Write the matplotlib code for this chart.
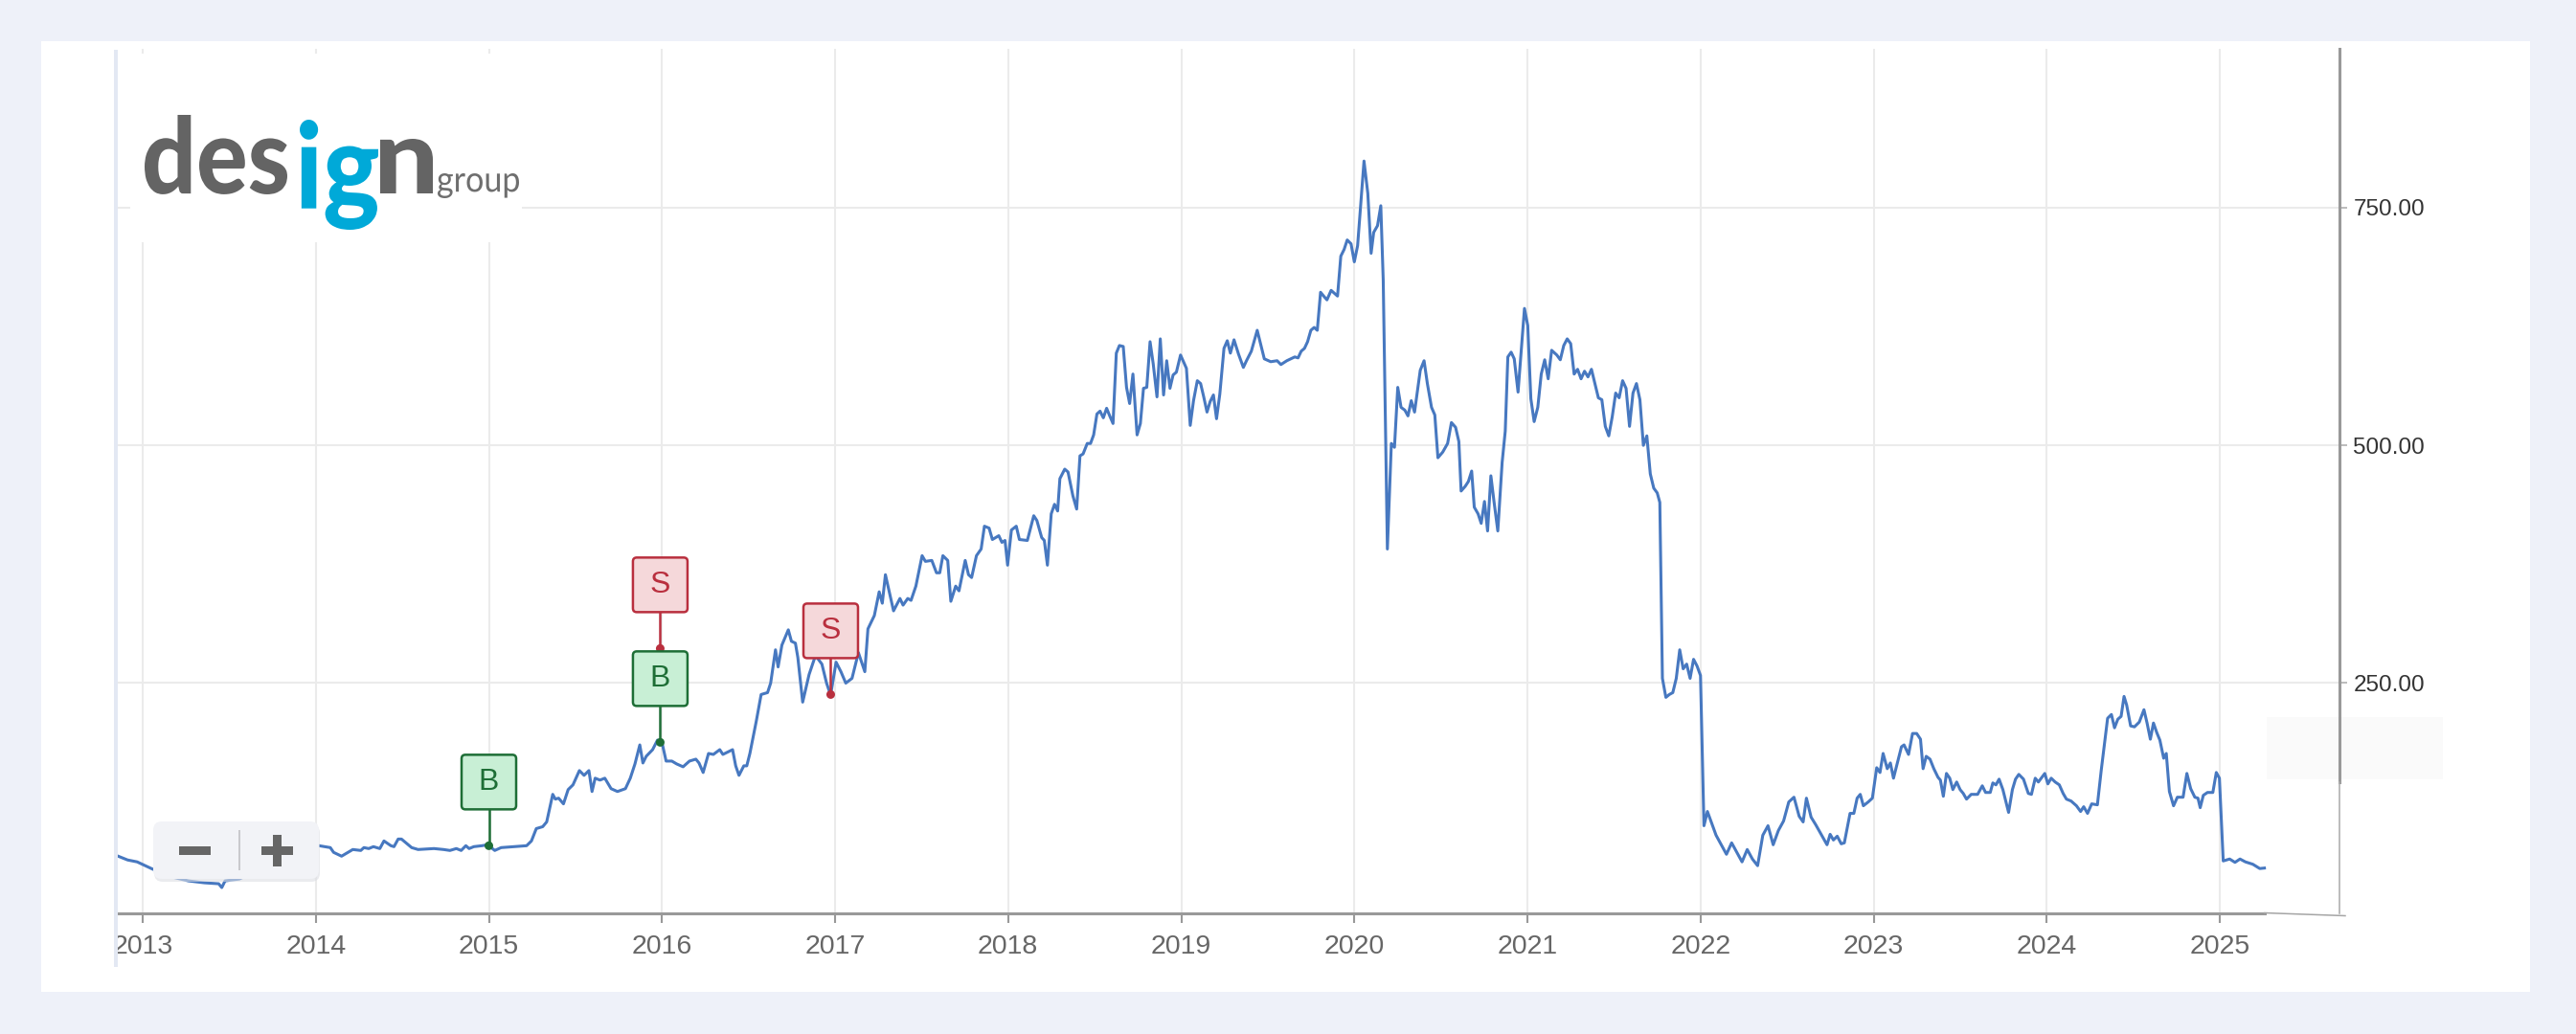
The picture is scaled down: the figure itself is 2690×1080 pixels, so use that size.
import matplotlib
matplotlib.use("Agg")
import matplotlib.pyplot as plt
import numpy as np
from matplotlib.patches import Rectangle, FancyBboxPatch, PathPatch, Circle
from matplotlib.textpath import TextPath
from matplotlib.font_manager import FontProperties
from matplotlib.transforms import Affine2D, IdentityTransform, Bbox
from matplotlib.lines import Line2D

plt.rcParams['font.family'] = ['Liberation Sans', 'DejaVu Sans']

# weekly closes, date as decimal year
t_2013 = [2012.858, 2012.913, 2012.968, 2013.05, 2013.15, 2013.264, 2013.356, 2013.439,
          2013.457, 2013.476, 2013.558, 2013.65, 2013.75, 2013.85, 2013.95]
v_2013 = [68, 64, 62, 55, 47, 42, 40, 39, 35, 42, 44, 52, 60, 68, 75]

t_2014 = [2014.019, 2014.084, 2014.103, 2014.149, 2014.177, 2014.214, 2014.260, 2014.278,
          2014.306, 2014.333, 2014.370, 2014.394, 2014.434, 2014.452, 2014.476, 2014.495,
          2014.554, 2014.591, 2014.683, 2014.738, 2014.775, 2014.812, 2014.840, 2014.867,
          2014.886, 2014.913, 2014.960, 2014.993, 2015.034, 2015.071, 2015.218, 2015.246,
          2015.274, 2015.311, 2015.334, 2015.369, 2015.384, 2015.403, 2015.431, 2015.458,
          2015.486, 2015.523, 2015.550, 2015.578]
v_2014 = [79, 77, 72, 68, 71, 75, 74, 77, 76, 78, 76, 84, 79, 78, 86, 86,
          77, 75, 76, 75, 74, 76, 74, 79, 76, 78, 79, 80, 74, 77, 79, 84,
          97, 99, 104, 133, 128, 129, 123, 138, 143, 158, 153, 158]

t_2016 = [2015.596, 2015.614, 2015.642, 2015.670, 2015.706, 2015.743, 2015.789, 2015.817,
          2015.844, 2015.872, 2015.890, 2015.909, 2015.946, 2015.974, 2016.002, 2016.024,
          2016.057, 2016.085, 2016.122, 2016.159, 2016.196, 2016.214, 2016.238, 2016.269,
          2016.297, 2016.334, 2016.352, 2016.408, 2016.426, 2016.445, 2016.473, 2016.490,
          2016.508, 2016.545, 2016.573, 2016.610, 2016.628, 2016.656, 2016.671, 2016.693,
          2016.730, 2016.748, 2016.771, 2016.785, 2016.813, 2016.850, 2016.887, 2016.924,
          2016.951, 2016.964, 2016.975, 2017.006, 2017.034, 2017.062, 2017.098, 2017.135,
          2017.172, 2017.190, 2017.227, 2017.255, 2017.273, 2017.291, 2017.338, 2017.375]
v_2016 = [136, 150, 148, 150, 139, 136, 139, 150, 165, 185, 166, 173, 180, 190, 186, 168,
          168, 165, 162, 168, 170, 166, 156, 176, 175, 180, 175, 180, 163, 153, 163, 163,
          176, 210, 238, 240, 250, 285, 267, 290, 306, 294, 292, 277, 230, 259, 279, 270,
          250, 243, 238, 272, 262, 250, 255, 282, 262, 307, 321, 346, 334, 364, 326, 339]

t_2017 = [2017.393, 2017.420, 2017.439, 2017.467, 2017.503, 2017.522, 2017.559, 2017.586,
          2017.605, 2017.623, 2017.651, 2017.669, 2017.697, 2017.716, 2017.752, 2017.771,
          2017.789, 2017.817, 2017.844, 2017.863, 2017.890, 2017.909, 2017.946, 2017.964,
          2017.982, 2017.997, 2018.019, 2018.047, 2018.065, 2018.111, 2018.148, 2018.166,
          2018.194, 2018.209, 2018.227, 2018.249]
v_2017 = [332, 339, 337, 352, 384, 378, 379, 366, 366, 384, 379, 336, 352, 347, 379, 364,
          361, 384, 391, 415, 413, 401, 405, 398, 400, 374, 411, 415, 401, 400, 426, 421,
          403, 400, 374, 428]

t_2019 = [2018.268, 2018.286, 2018.299, 2018.327, 2018.346, 2018.374, 2018.396, 2018.415,
          2018.433, 2018.457, 2018.476, 2018.494, 2018.513, 2018.531, 2018.550, 2018.569,
          2018.587, 2018.606, 2018.625, 2018.643, 2018.665, 2018.684, 2018.702, 2018.721,
          2018.745, 2018.764, 2018.782, 2018.801, 2018.820, 2018.838, 2018.860, 2018.879,
          2018.898, 2018.916, 2018.935, 2018.953, 2018.972, 2018.996, 2019.030, 2019.052,
          2019.071, 2019.093, 2019.112, 2019.130, 2019.149, 2019.167, 2019.186, 2019.204,
          2019.223, 2019.247, 2019.266, 2019.284, 2019.305, 2019.331, 2019.359, 2019.377,
          2019.405, 2019.439, 2019.480, 2019.517, 2019.554, 2019.576, 2019.610, 2019.656,
          2019.675, 2019.693, 2019.712, 2019.730, 2019.749, 2019.768, 2019.786, 2019.805,
          2019.823, 2019.842, 2019.866, 2019.903, 2019.922, 2019.941, 2019.959, 2019.981,
          2020.000, 2020.019, 2020.056, 2020.078, 2020.097, 2020.112, 2020.134, 2020.153,
          2020.167, 2020.191, 2020.214, 2020.232, 2020.251, 2020.270, 2020.292, 2020.310,
          2020.329, 2020.348, 2020.381, 2020.403, 2020.422, 2020.446, 2020.465]
v_2019 = [438, 431, 465, 475, 472, 447, 433, 489, 491, 502, 502, 511, 533, 536, 529, 539,
          531, 523, 597, 605, 604, 561, 544, 575, 511, 523, 560, 561, 609, 586, 551, 612,
          553, 589, 560, 574, 577, 595, 581, 521, 547, 568, 565, 551, 535, 546, 553, 528,
          554, 602, 610, 597, 611, 596, 582, 589, 599, 621, 591, 588, 589, 585, 589, 593,
          592, 599, 602, 609, 621, 624, 621, 661, 657, 653, 663, 657, 699, 706, 716, 712,
          693, 710, 799, 765, 702, 724, 731, 752, 674, 391, 502, 498, 561, 540, 537, 531,
          547, 535, 579, 589, 565, 540, 532]

t_2020 = [2020.483, 2020.511, 2020.539, 2020.561, 2020.585, 2020.604, 2020.617, 2020.641,
          2020.659, 2020.678, 2020.693, 2020.715, 2020.733, 2020.752, 2020.770, 2020.789,
          2020.807, 2020.829, 2020.854, 2020.872, 2020.887, 2020.906, 2020.924, 2020.946,
          2020.983, 2021.002, 2021.020, 2021.039]
v_2020 = [487, 493, 502, 524, 519, 504, 452, 457, 462, 473, 435, 428, 418, 441, 410, 468,
          441, 410, 482, 515, 593, 598, 591, 556, 644, 626, 549, 525]

t_2021 = [2021.06, 2021.08, 2021.10, 2021.12, 2021.14, 2021.17, 2021.19, 2021.21, 2021.23,
          2021.25, 2021.27, 2021.29, 2021.31, 2021.33, 2021.35, 2021.37, 2021.39, 2021.41,
          2021.43, 2021.45, 2021.47, 2021.49, 2021.51, 2021.53, 2021.55, 2021.57, 2021.59,
          2021.61, 2021.63, 2021.65, 2021.67, 2021.69, 2021.71, 2021.73, 2021.75, 2021.765,
          2021.78, 2021.80, 2021.82, 2021.84, 2021.86, 2021.88, 2021.90, 2021.92, 2021.94,
          2021.96, 2021.98, 2022.00, 2022.02, 2022.04, 2022.06, 2022.09, 2022.12, 2022.15,
          2022.18, 2022.21, 2022.24, 2022.27, 2022.30, 2022.33, 2022.36, 2022.39, 2022.42,
          2022.45, 2022.48, 2022.51, 2022.54, 2022.57]
v_2021 = [540, 575, 590, 570, 600, 595, 590, 605, 612, 607, 575, 580, 570, 578, 572, 580,
          565, 550, 548, 520, 510, 530, 555, 550, 568, 560, 520, 555, 565, 548, 500, 510,
          470, 455, 450, 440, 255, 235, 238, 240, 255, 285, 265, 270, 255, 275, 268, 258,
          100, 115, 105, 90, 80, 70, 82, 72, 62, 75, 65, 58, 90, 100, 80, 95, 105, 125,
          130, 110]

t_2023 = [2022.593, 2022.612, 2022.639, 2022.666, 2022.694, 2022.731, 2022.749, 2022.768,
          2022.790, 2022.813, 2022.831, 2022.864, 2022.886, 2022.905, 2022.923, 2022.941,
          2022.969, 2022.993, 2023.018, 2023.037, 2023.055, 2023.079, 2023.097, 2023.115,
          2023.143, 2023.161, 2023.176, 2023.202, 2023.225, 2023.249, 2023.271, 2023.286,
          2023.304, 2023.326, 2023.348, 2023.372, 2023.386, 2023.403, 2023.421, 2023.440,
          2023.458, 2023.480, 2023.500, 2023.518, 2023.537, 2023.564, 2023.601, 2023.628,
          2023.647, 2023.674, 2023.689, 2023.707, 2023.725, 2023.747, 2023.780, 2023.802,
          2023.820, 2023.839, 2023.866, 2023.894, 2023.912, 2023.934, 2023.952, 2023.989]
v_2023 = [104, 129, 109, 101, 92, 80, 91, 85, 89, 81, 82, 113, 113, 129, 133, 121,
          125, 129, 161, 156, 176, 160, 166, 150, 170, 183, 185, 175, 197, 197, 191, 160,
          173, 170, 160, 151, 148, 131, 155, 150, 138, 146, 138, 134, 128, 133, 133, 142,
          135, 135, 145, 143, 149, 138, 114, 138, 149, 154, 149, 134, 133, 150, 146, 155]

t_2024 = [2024.007, 2024.026, 2024.049, 2024.073, 2024.095, 2024.114, 2024.141, 2024.172,
          2024.196, 2024.214, 2024.236, 2024.260, 2024.293, 2024.315, 2024.352, 2024.374,
          2024.392, 2024.411, 2024.430, 2024.447, 2024.462, 2024.485, 2024.507, 2024.535,
          2024.562, 2024.580, 2024.599, 2024.617, 2024.636, 2024.654, 2024.676, 2024.691,
          2024.709, 2024.733, 2024.755, 2024.788, 2024.810, 2024.832, 2024.856, 2024.874,
          2024.887, 2024.905, 2024.929, 2024.960, 2024.980, 2024.998, 2025.020, 2025.057,
          2025.088, 2025.117, 2025.148, 2025.191, 2025.231, 2025.258]
v_2024 = [144, 150, 146, 143, 134, 128, 126, 121, 115, 120, 113, 123, 122, 158, 213, 217,
          203, 212, 215, 236, 227, 205, 204, 209, 222, 208, 191, 208, 198, 190, 171, 176,
          136, 121, 130, 130, 155, 139, 130, 129, 119, 132, 135, 135, 156, 150, 63, 65,
          61.5, 65, 62, 59.5, 55, 55.5]

# buy / sell flags (date, type)
flag_dates = [2015.00, 2015.99, 2015.99, 2016.975]
flag_types = ["B", "B", "S", "S"]

years = list(range(2013, 2026))
y_ticks = [250, 500, 750]

t = np.array(t_2013 + t_2014 + t_2016 + t_2017 + t_2019 + t_2020 + t_2021 + t_2023 + t_2024)
v = np.array(v_2013 + v_2014 + v_2016 + v_2017 + v_2019 + v_2020 + v_2021 + v_2023 + v_2024)

W, H = 2690, 1080
fig = plt.figure(figsize=(W / 100, H / 100), dpi=100, facecolor='#eef1f9')
ident = IdentityTransform()


def box(x0, y0, x1, y1, **kw):
    # rectangle given in image pixels (top-left origin)
    return Rectangle((x0, H - y1), x1 - x0, y1 - y0, transform=ident, **kw)


# white card
fig.add_artist(box(43, 43, 2642, 1036, fc='white', ec='none', zorder=-5))
# faint overlay near right axis
fig.add_artist(box(2367, 749, 2551, 814, fc='#fafafa', ec='none', zorder=-4))

ax = fig.add_axes([123 / W, (H - 954) / H, (2443 - 123) / W, (954 - 51) / H])
ax.set_facecolor('none')
ax.plot(t, v, color='#4778c0', lw=2.2, solid_joinstyle='round', zorder=3)

ax.set_xlim(2013 - 26 / 180.75, 2013 + (2443 - 149) / 180.75)
ax.set_ylim(7.85, 917)

ax.set_xticks(years)
ax.set_xticklabels([str(y) for y in years])
ax.set_yticks(y_ticks)
ax.set_yticklabels([f"{y:.2f}" for y in y_ticks])
ax.yaxis.tick_right()
ax.tick_params(axis='x', length=7.2, width=1.5, color='#999999', labelsize=20.5,
               labelcolor='#666666', pad=9)
ax.tick_params(axis='y', length=5.8, width=1.1, color='#aaaaaa', labelsize=17.5,
               labelcolor='#333333', pad=4.5)
ax.grid(True, color='#ebebeb', lw=1.5)
ax.set_axisbelow(True)
for s in ax.spines.values():
    s.set_visible(False)

# axis lines (x axis stops at the last point, then a thin bit to the corner)
ax.plot([ax.get_xlim()[0], t[-1]], [0, 0], transform=ax.get_xaxis_transform(),
        color='#999999', lw=2.2, clip_on=False, zorder=4)
x_end = ax.transData.transform((t[-1], 0))[0]
fig.add_artist(Line2D([x_end, 2449], [H - 953.5, H - 956.5], transform=ident,
                      color='#a5a5a5', lw=1.1))
split = (954 - 817) / (954 - 51)
ax.plot([1, 1], [split, 1], transform=ax.transAxes, color='#999999', lw=2.2,
        clip_on=False, zorder=4)
ax.plot([1, 1], [0, split], transform=ax.transAxes, color='#aaaaaa', lw=1.1,
        clip_on=False, zorder=4)

# light bar on the left edge
fig.add_artist(box(119, 52, 123, 1010, fc='#e3e8f3', ec='none', zorder=8))

# ---- logo ----
fig.add_artist(box(136, 56, 545, 253, fc='white', ec='none', zorder=5))


def logo_piece(s, weight, color, x0, y0, x1, y1):
    tp = TextPath((0, 0), s, size=100, prop=FontProperties(family='Lato', weight=weight))
    bb = tp.get_extents()
    tr = (Affine2D().translate(-bb.x0, -bb.y0)
          .scale((x1 - x0) / bb.width, (y1 - y0) / bb.height)
          .translate(x0, H - y1))
    fig.add_artist(PathPatch(tp, transform=tr, fc=color, ec='none', zorder=6))


logo_piece("des", 'black', '#646464', 151, 120, 300, 203)
logo_piece("ig", 'black', '#00a9d8', 313, 125, 395, 240)
logo_piece("n", 'black', '#646464', 397, 145, 452, 202)
logo_piece("group", 'normal', '#6e6e6e', 457, 181, 542, 207)

# ---- zoom buttons ----
fig.add_artist(FancyBboxPatch((161, H - 921), 173, 60, boxstyle='round,pad=0,rounding_size=9',
                              transform=ident, fc='#dcdee4', ec='none', alpha=0.6, zorder=9))
fig.add_artist(FancyBboxPatch((160, H - 918), 173, 60, boxstyle='round,pad=0,rounding_size=9',
                              transform=ident, fc='#f2f3f7', ec='none', zorder=10))
fig.add_artist(box(187, 883.5, 220, 892.5, fc='#666666', ec='none', zorder=11))
fig.add_artist(box(273, 883.5, 306, 892.5, fc='#666666', ec='none', zorder=11))
fig.add_artist(box(285, 871.5, 294, 904.5, fc='#666666', ec='none', zorder=11))
fig.add_artist(box(249, 867, 251, 909, fc='#c9c9cd', ec='none', zorder=11))

# ---- flags ----
styles = {"B": ('#c8efd5', '#1e6e36'), "S": ('#f5d8da', '#b92f3e')}
stack_top = {}
for fd, ft in zip(flag_dates, flag_types):
    fc, ec = styles[ft]
    xd, yd = ax.transData.transform((fd, np.interp(fd, t, v)))
    if fd in stack_top:
        yd = stack_top[fd] + 3
    fig.add_artist(Circle((xd, yd), 4.5, transform=ident, fc=ec, ec='none', zorder=12))
    fig.add_artist(Line2D([xd, xd], [yd, yd + 38], transform=ident, color=ec, lw=1.8,
                          zorder=12))
    fig.add_artist(FancyBboxPatch((xd - 28.5, yd + 38), 57, 57,
                                  boxstyle='round,pad=0,rounding_size=4', transform=ident,
                                  fc=fc, ec=ec, lw=1.8, zorder=13))
    fig.text(xd / W, (yd + 38 + 28.5) / H, ft, ha='center', va='center', fontsize=23,
             color=ec, zorder=14)
    stack_top[fd] = yd + 38 + 57

fig.canvas.draw()
clip = Bbox.from_extents(123, 0, W, H)
for lab in ax.get_xticklabels():
    lab.set_clip_box(clip)
    lab.set_clip_on(True)

fig.savefig("out.png", dpi=100, facecolor=fig.get_facecolor())
